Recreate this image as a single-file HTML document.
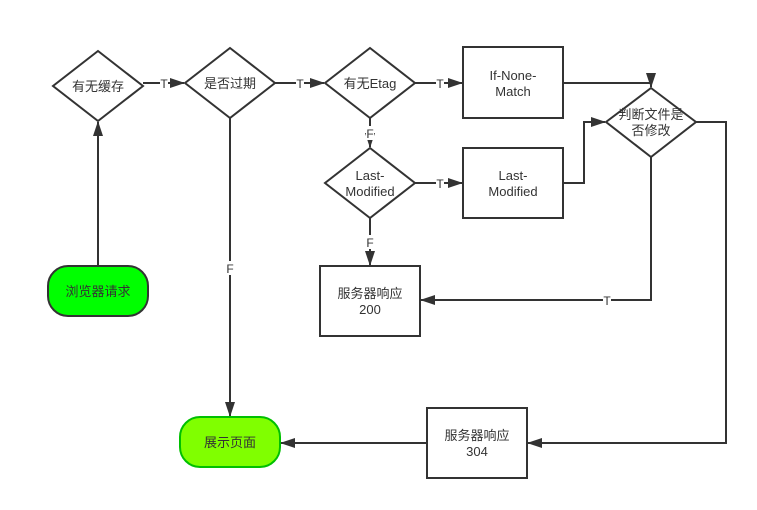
<!DOCTYPE html>
<html><head><meta charset="utf-8"><style>
html,body{margin:0;padding:0;background:#fff;}
svg{display:block;font-family:"Liberation Sans","Noto Sans CJK SC",sans-serif;}
</style></head><body>
<svg width="757" height="510" viewBox="0 0 757 510" xmlns="http://www.w3.org/2000/svg">
<defs>
<marker id="a" markerWidth="15" markerHeight="10" refX="14" refY="5" orient="auto" markerUnits="userSpaceOnUse">
<path d="M0,0 L15,5 L0,10 z" fill="#333"/></marker>
</defs>
<g fill="none" stroke="#333" stroke-width="2">
<path d="M98,266 V122" marker-end="url(#a)"/>
<path d="M143,83 H184" marker-end="url(#a)"/>
<path d="M230,118 V416" marker-end="url(#a)"/>
<path d="M275,83 H324" marker-end="url(#a)"/>
<path d="M415,83 H462" marker-end="url(#a)"/>
<path d="M563,83 H651 V87" marker-end="url(#a)"/>
<path d="M370,118 V147" marker-end="url(#a)"/>
<path d="M415,183 H462" marker-end="url(#a)"/>
<path d="M563,183 H584 V122 H605" marker-end="url(#a)"/>
<path d="M370,218 V265" marker-end="url(#a)"/>
<path d="M651,157 V300 H421" marker-end="url(#a)"/>
<path d="M696,122 H726 V443 H528" marker-end="url(#a)"/>
<path d="M427,443 H281" marker-end="url(#a)"/>
<path d="M98,51 L143,86 L98,121 L53,86 Z" fill="#fff"/>
<path d="M230,48 L275,83 L230,118 L185,83 Z" fill="#fff"/>
<path d="M370,48 L415,83 L370,118 L325,83 Z" fill="#fff"/>
<path d="M370,148 L415,183 L370,218 L325,183 Z" fill="#fff"/>
<path d="M651,88 L696,122 L651,157 L606,122 Z" fill="#fff"/>
<rect x="463" y="47" width="100" height="71" fill="#fff"/>
<rect x="463" y="148" width="100" height="70" fill="#fff"/>
<rect x="320" y="266" width="100" height="70" fill="#fff"/>
<rect x="427" y="408" width="100" height="70" fill="#fff"/>
<rect x="48" y="266" width="100" height="50" rx="20" fill="#00ff00"/>
<rect x="180" y="417" width="100" height="50" rx="20" fill="#80ff00" stroke="#00c000"/>
</g>
<g font-size="13" fill="#333" text-anchor="middle">
<text x="98" y="91">有无缓存</text>
<text x="230" y="88">是否过期</text>
<text x="370" y="88">有无Etag</text>
<text x="370" y="180">Last-</text>
<text x="370" y="196">Modified</text>
<text x="513" y="80">If-None-</text>
<text x="513" y="96">Match</text>
<text x="513" y="180">Last-</text>
<text x="513" y="196">Modified</text>
<text x="651" y="119">判断文件是</text>
<text x="651" y="135">否修改</text>
<text x="370" y="298">服务器响应</text>
<text x="370" y="314">200</text>
<text x="477" y="440">服务器响应</text>
<text x="477" y="456">304</text>
<text x="98" y="296">浏览器请求</text>
<text x="230" y="447">展示页面</text>
</g>
<g font-size="12" fill="#333" text-anchor="middle">
<rect x="160" y="76" width="8" height="14" fill="#fff"/><text x="164" y="88">T</text>
<rect x="296" y="76" width="8" height="14" fill="#fff"/><text x="300" y="88">T</text>
<rect x="436" y="76" width="8" height="14" fill="#fff"/><text x="440" y="88">T</text>
<rect x="436" y="176" width="8" height="14" fill="#fff"/><text x="440" y="188">T</text>
<rect x="366" y="126" width="8" height="14" fill="#fff"/><text x="370" y="138">F</text>
<rect x="366" y="235" width="8" height="14" fill="#fff"/><text x="370" y="247">F</text>
<rect x="226" y="261" width="8" height="14" fill="#fff"/><text x="230" y="273">F</text>
<rect x="603" y="293" width="8" height="14" fill="#fff"/><text x="607" y="305">T</text>
</g>
</svg>
</body></html>
